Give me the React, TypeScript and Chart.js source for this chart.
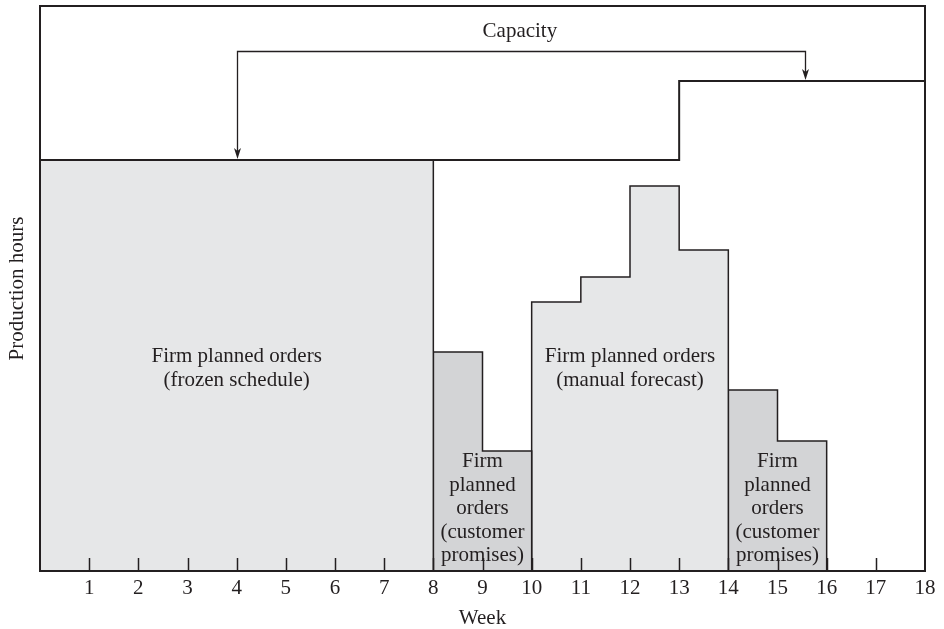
import React, { useEffect, useRef } from "react";
import { Chart, registerables } from "chart.js";

Chart.register(...registerables);

// ---- data (production hours, arbitrary units; weeks 0..18) ----
const weekTicks = [1, 2, 3, 4, 5, 6, 7, 8, 9, 10, 11, 12, 13, 14, 15, 16, 17, 18];
const capacityHours = [411, 411, 411, 411, 411, 411, 411, 411, 411, 411, 411, 411, 411, 490, 490, 490, 490, 490];
const frozenStart = 0;
const frozenHours = [411, 411, 411, 411, 411, 411, 411, 411];
const promisesAStart = 8;
const promisesAHours = [219, 120];
const forecastStart = 10;
const forecastHours = [269, 294, 385, 321];
const promisesBStart = 14;
const promisesBHours = [181, 130];

const frozenLabel = ["Firm planned orders", "(frozen schedule)"];
const forecastLabel = ["Firm planned orders", "(manual forecast)"];
const promisesLabel = ["Firm", "planned", "orders", "(customer", "promises)"];
const capacityLabel = "Capacity";
const capacityArrowWeeks = [4, 15.55];

const INK = "#231f20";
const LIGHT = "#e6e7e8";
const DARK = "#d3d4d6";
const FONT = '"Liberation Serif", "Times New Roman", serif';
const FS = 21;

function blockPoints(start: number, values: number[]) {
  const pts: { x: number; y: number }[] = [{ x: start, y: 0 }];
  values.forEach((v, i) => {
    pts.push({ x: start + i, y: v });
    pts.push({ x: start + i + 1, y: v });
  });
  pts.push({ x: start + values.length, y: 0 });
  return pts;
}

function stepPoints(values: number[]) {
  const pts: { x: number; y: number }[] = [];
  values.forEach((v, i) => {
    pts.push({ x: i, y: v });
    pts.push({ x: i + 1, y: v });
  });
  return pts;
}

const annotationPlugin = {
  id: "annotations",
  afterDatasetsDraw(chart: any) {
    const { ctx, chartArea, scales } = chart;
    const xs = scales.x;
    const ys = scales.y;
    ctx.save();
    // inward tick marks
    ctx.strokeStyle = INK;
    ctx.lineWidth = 1.5;
    weekTicks.forEach((w) => {
      if (w >= 18) return;
      const px = Math.round(xs.getPixelForValue(w)) + 0.5;
      ctx.beginPath();
      ctx.moveTo(px, chartArea.bottom);
      ctx.lineTo(px, chartArea.bottom - 13);
      ctx.stroke();
    });
    // frame
    ctx.lineWidth = 2;
    ctx.strokeRect(chartArea.left, chartArea.top, chartArea.right - chartArea.left, chartArea.bottom - chartArea.top);

    // texts
    ctx.fillStyle = INK;
    ctx.font = `${FS}px ${FONT}`;
    ctx.textAlign = "center";
    ctx.textBaseline = "alphabetic";
    const lh = 23.5;
    const drawLines = (lines: string[], xVal: number, yVal: number) => {
      const px = xs.getPixelForValue(xVal);
      const py = ys.getPixelForValue(yVal);
      lines.forEach((t, i) => ctx.fillText(t, px, py + i * lh));
    };
    drawLines(frozenLabel, 4, 209);
    drawLines(forecastLabel, 12, 209);
    drawLines(promisesLabel, 9, 104);
    drawLines(promisesLabel, 15, 104);
    drawLines([capacityLabel], 9.76, 534);

    // capacity bracket with arrows
    const by = Math.round(ys.getPixelForValue(520)) + 0.5;
    const x1 = Math.round(xs.getPixelForValue(capacityArrowWeeks[0])) + 0.5;
    const x2 = Math.round(xs.getPixelForValue(capacityArrowWeeks[1])) + 0.5;
    const y1 = ys.getPixelForValue(capacityHours[Math.floor(capacityArrowWeeks[0])]) - 1;
    const y2 = ys.getPixelForValue(capacityHours[Math.floor(capacityArrowWeeks[1])]) - 1;
    ctx.lineWidth = 1.3;
    ctx.beginPath();
    ctx.moveTo(x1, y1 - 8);
    ctx.lineTo(x1, by);
    ctx.lineTo(x2, by);
    ctx.lineTo(x2, y2 - 8);
    ctx.stroke();
    const head = (x: number, y: number) => {
      ctx.beginPath();
      ctx.moveTo(x, y);
      ctx.lineTo(x - 3.5, y - 11);
      ctx.lineTo(x, y - 8);
      ctx.lineTo(x + 3.5, y - 11);
      ctx.closePath();
      ctx.fill();
    };
    head(x1, y1);
    head(x2, y2);
    ctx.restore();
  },
};

export default function App() {
  const ref = useRef<HTMLCanvasElement | null>(null);
  useEffect(() => {
    if (!ref.current) return;
    const blockStyle = (fill: string) => ({
      type: "line" as const,
      fill: "origin",
      backgroundColor: fill,
      borderColor: INK,
      borderWidth: 1.5,
      pointRadius: 0,
      tension: 0,
      clip: 4,
      order: 1,
    });
    const chart = new Chart(ref.current, {
      type: "line",
      data: {
        datasets: [
          {
            label: "Capacity",
            data: stepPoints(capacityHours),
            borderColor: INK,
            borderWidth: 2,
            fill: false,
            pointRadius: 0,
            tension: 0,
            clip: 4,
            order: 0,
          } as any,
          { label: "Frozen", data: blockPoints(frozenStart, frozenHours), ...blockStyle(LIGHT) } as any,
          { label: "PromisesA", data: blockPoints(promisesAStart, promisesAHours), ...blockStyle(DARK) } as any,
          { label: "Forecast", data: blockPoints(forecastStart, forecastHours), ...blockStyle(LIGHT) } as any,
          { label: "PromisesB", data: blockPoints(promisesBStart, promisesBHours), ...blockStyle(DARK) } as any,
        ],
      },
      options: {
        animation: false,
        responsive: true,
        maintainAspectRatio: false,
        layout: { padding: { top: 6, right: 19, left: 0, bottom: 0 } },
        plugins: { legend: { display: false }, tooltip: { enabled: false } },
        scales: {
          x: {
            type: "linear",
            min: 0,
            max: 18,
            grid: { display: false, drawTicks: false },
            border: { display: false },
            ticks: {
              stepSize: 1,
              padding: 5,
              color: INK,
              font: { family: FONT, size: FS },
              callback: (v: any) => (weekTicks.includes(Number(v)) ? String(v) : ""),
              maxRotation: 0,
              autoSkip: false,
            },
            title: {
              display: true,
              text: "Week",
              color: INK,
              font: { family: FONT, size: FS, lineHeight: 1 },
              padding: { top: 0, bottom: 0 },
            },
            afterFit: (s: any) => {
              s.height = 58;
            },
          },
          y: {
            type: "linear",
            min: 0,
            max: 565,
            grid: { display: false, drawTicks: false },
            border: { display: false },
            ticks: { display: false },
            title: {
              display: true,
              text: "Production hours",
              color: INK,
              font: { family: FONT, size: FS, lineHeight: 1 },
              padding: { top: 7, bottom: 0 },
            },
            afterFit: (s: any) => {
              s.width = 40;
            },
          },
        },
      },
      plugins: [annotationPlugin],
    });
    return () => chart.destroy();
  }, []);

  return (
    <div style={{ position: "absolute", left: 0, top: 0, width: 944, height: 629, background: "#fff" }}>
      <canvas ref={ref} />
    </div>
  );
}
